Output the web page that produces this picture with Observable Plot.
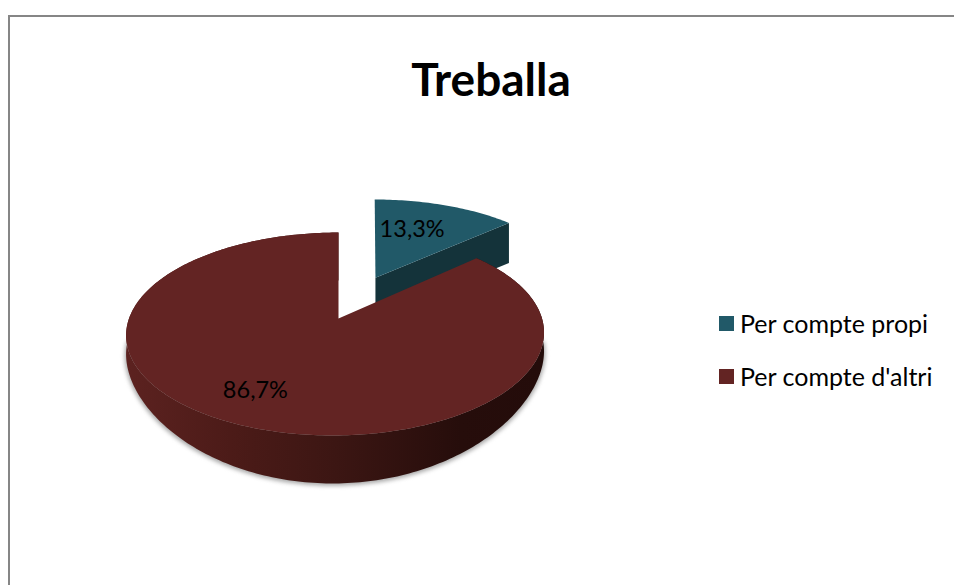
<!DOCTYPE html>
<html>
<head>
<meta charset="utf-8">
<script src="https://cdn.jsdelivr.net/npm/d3@7"></script>
<script src="https://cdn.jsdelivr.net/npm/@observablehq/plot@0.6"></script>
<style>
  html, body { margin: 0; padding: 0; background: #fff; overflow: hidden; }
  #wrap { position: relative; width: 954px; height: 585px; font-family: Lato, "Noto Sans", sans-serif; color: #000; }
  #frame { position: absolute; left: 8px; top: 15px; right: 0; bottom: 0; border-left: 2.5px solid #868686; border-top: 2.5px solid #868686; }
  #title { position: absolute; left: 8px; width: 966px; top: 49px; margin: 0; text-align: center; font-size: 46px; font-weight: 700; line-height: 60px; }
  #legend { position: absolute; left: 719px; top: 310px; font-size: 25px; line-height: 26px; }
  #legend div { display: flex; align-items: center; height: 26px; margin-bottom: 27px; white-space: nowrap; }
  #legend i { display: inline-block; width: 15px; height: 15px; margin-right: 6px; }
  svg { position: absolute; left: 0; top: 0; }
</style>
</head>
<body>
<div id="wrap">
  <div id="frame"></div>
  <div id="chart"></div>
  <h1 id="title"></h1>
  <div id="legend"></div>
</div>
<script>
const chartTitle = "Treballa";
const categories = ["Per compte propi", "Per compte d'altri"];
const values = [13.3, 86.7];
const faceColors = ["#215968", "#632423"];
const sideColors = ["#14333a", "#3c1613"];

// Tilted-disc projection: disc units are mapped through the plot's x and y scales.
const k = 0.1527;
const xDomain = [-338 / 206.5, 616 / 206.5];
const yDomain = [318 / 99.1, -267 / 99.1];
const deg = Math.PI / 180;

function project(u, v, depthPx = 0, c = 1, bias = 0) {
  const s = 1 / (1 + k * v);
  return {x: u * s - 0.0145 * (1 - c) + bias, y: v * s - depthPx / 99.1};
}
function polar(a, r, u0, v0, depthOf = () => 0, bias = 0) {
  const c = Math.cos(a * deg);
  return project(u0 + r * Math.sin(a * deg), v0 + r * c, depthOf(c), c, bias * c);
}
function arc(a0, a1, r, u0, v0, depthOf, bias = 0) {
  const n = Math.max(2, Math.ceil(Math.abs(a1 - a0)));
  return d3.range(n + 1).map(i => polar(a0 + (a1 - a0) * i / n, r, u0, v0, depthOf, bias));
}

const endSmall = values[0] / d3.sum(values) * 360;

// Exploded small slice
const smallU = 0.2, smallV = 0.44, smallR = 1.03, smallBias = 0.012;
const smallDepth = () => 40;
const smallApex = project(smallU - 0.009, smallV);
const smallFace = [smallApex, ...arc(0, endSmall, smallR, smallU, smallV, undefined, smallBias)];
const smallSide = [
  smallApex,
  polar(endSmall, smallR, smallU, smallV, undefined, smallBias),
  polar(endSmall, smallR, smallU, smallV, smallDepth, smallBias),
  project(smallU - 0.009, smallV, 40)
];

// Large slice
const bigDepth = c => 18 + 30 * c * c;
const bigApex = project(0, 0);
const bigFace = [bigApex, ...arc(endSmall, 360, 1, 0, 0)];
const bigSide = [...arc(endSmall, 360, 1, 0, 0), ...arc(360, endSmall, 1, 0, 0, bigDepth)];
const bigShadow = arc(92, 268, 1.006, 0, 0, c => bigDepth(c) + 1.5);

const smallLabelPos = polar(endSmall * 0.41, 0.638, smallU, smallV);
const bigLabelPos = polar(endSmall + (360 - endSmall) / 2 + 3.5, 0.733, 0, 0);
const labels = [
  {...smallLabelPos, text: values[0].toFixed(1).replace(".", ",") + "%"},
  {...bigLabelPos, text: values[1].toFixed(1).replace(".", ",") + "%"}
];

const soft = {imageFilter: "blur(0.6px)"};
const shape = (data, fill, extra = {}) =>
  Plot.line(data, {x: "x", y: "y", fill, stroke: "none", curve: "linear", ...soft, ...extra});

const gradient = () => {
  const defs = d3.create("svg:defs");
  const g = defs.append("linearGradient").attr("id", "bigSide");
  [[0, "#5c2220"], [0.25, "#4c1b18"], [0.5, sideColors[1]], [0.8, "#260d0b"], [1, "#240c0a"]]
    .forEach(([o, c]) => g.append("stop").attr("offset", o).attr("stop-color", c));
  return defs.node();
};

const chart = Plot.plot({
  width: 954, height: 585,
  margin: 0,
  x: {domain: xDomain, range: [0, 954], axis: null},
  y: {domain: yDomain, range: [0, 585], axis: null},
  style: {background: "transparent", overflow: "visible"},
  marks: [
    gradient,
    shape(bigShadow, "#a8a8a8", {imageFilter: "blur(2px)"}),
    shape(smallSide, sideColors[0]),
    shape(smallFace, faceColors[0]),
    shape(bigSide, "url(#bigSide)"),
    shape(bigFace, faceColors[1]),
    Plot.text(labels, {x: "x", y: "y", text: "text", fill: "#000", fontSize: 23.5, fontFamily: "Lato, 'Noto Sans', sans-serif"})
  ]
});
document.getElementById("chart").append(chart);
document.getElementById("title").textContent = chartTitle;

const legend = d3.select("#legend");
categories.forEach((c, i) => {
  const row = legend.append("div");
  row.append("i").style("background", faceColors[i]);
  row.append("span").text(c);
});
</script>
</body>
</html>
